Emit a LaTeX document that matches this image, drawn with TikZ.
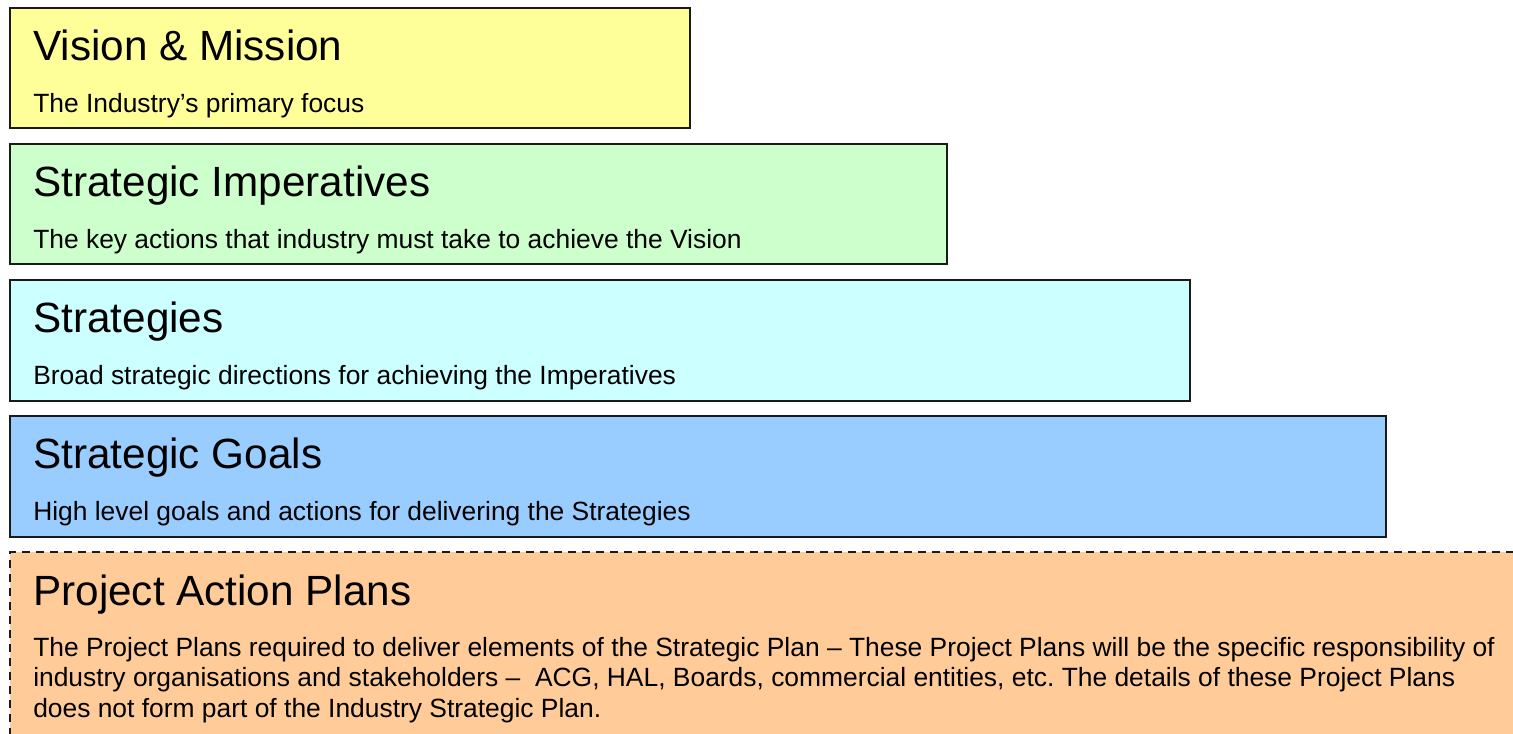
\documentclass[tikz,border=0pt]{standalone}
\usepackage{fontspec}
\setmainfont{Liberation Sans}
\frenchspacing
\definecolor{cYellow}{HTML}{FFFF99}
\definecolor{cGreen}{HTML}{CCFFCC}
\definecolor{cCyan}{HTML}{CCFFFF}
\definecolor{cBlue}{HTML}{99CCFF}
\definecolor{cOrange}{HTML}{FFCC99}
\definecolor{cBorder}{HTML}{1A1A1A}
\begin{document}
\frenchspacing
\begin{tikzpicture}[x=0.75pt,y=-0.75pt,
  box/.style={draw=cBorder, line width=1.5pt, anchor=north west, inner sep=0pt, outer sep=0pt},
  title/.style={anchor=base west, inner sep=0pt, font=\fontsize{31.7}{36}\selectfont},
  sub/.style={anchor=base west, inner sep=0pt, font=\fontsize{19.8}{22}\selectfont}]
\clip (0,0) rectangle (1513,733);
\fill[white] (0,0) rectangle (1513,733);
% Vision & Mission
\node[box, fill=cYellow, minimum width=510pt, minimum height=90pt] (vm) at (10,8) {};
\node[title] (vmT) at (33,60) {Vision \& Mission};
\node[sub] (vmS) at (33,112) {The Industry’s primary focus};
% Strategic Imperatives
\node[box, fill=cGreen, minimum width=702.75pt, minimum height=90pt] (si) at (10,144) {};
\node[title] (siT) at (33,196) {Strategic Imperatives};
\node[sub] (siS) at (33,248) {The key actions that industry must take to achieve the Vision};
% Strategies
\node[box, fill=cCyan, minimum width=885pt, minimum height=90.75pt] (st) at (10,280) {};
\node[title] (stT) at (33,332) {Strategies};
\node[sub] (stS) at (33,384) {Broad strategic directions for achieving the Imperatives};
% Strategic Goals
\node[box, fill=cBlue, minimum width=1032pt, minimum height=90.75pt] (sg) at (10,416) {};
\node[title] (sgT) at (33,468) {Strategic Goals};
\node[sub] (sgS) at (33,520) {High level goals and actions for delivering the Strategies};
% Project Action Plans
\fill[cOrange] (10,552) rectangle (1530,750);
\coordinate (paBL) at (10,750);
\coordinate (paTL) at (10,552);
\coordinate (paTR) at (1530,552);
\draw[cBorder, line width=1.5pt, dash pattern=on 6pt off 4.5pt] (paBL) -- (paTL) -- (paTR);
\node[title] (paT) at (33,605) {Project Action Plans};
\node[sub] (pa1) at (33,656) {The Project Plans required to deliver elements of the Strategic Plan – These Project Plans will be the specific responsibility of};
\node[sub] (pa2) at (33,686.5) {industry organisations and stakeholders –\ \ ACG, HAL, Boards, commercial entities, etc. The details of these Project Plans};
\node[sub] (pa3) at (33,717) {does not form part of the Industry Strategic Plan.};
\end{tikzpicture}
\end{document}
